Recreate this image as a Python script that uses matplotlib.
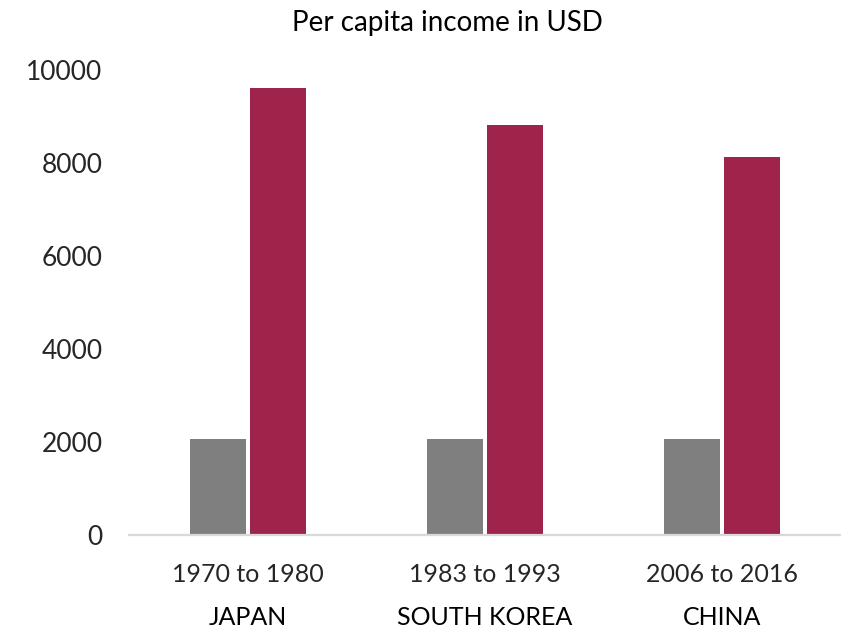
import numpy as np
import matplotlib.pyplot as plt
from matplotlib import transforms

countries = ["JAPAN", "SOUTH KOREA", "CHINA"]
periods = ["1970 to 1980", "1983 to 1993", "2006 to 2016"]
income_start = [2065, 2065, 2065]
income_end = [9610, 8815, 8130]
y_ticks = [0, 2000, 4000, 6000, 8000, 10000]

GREY = "#7f7f7f"
CRIMSON = "#9e244b"

plt.rcParams["font.family"] = ["Lato", "DejaVu Sans"]

fig = plt.figure(figsize=(8.41, 6.33), dpi=100)
ax = fig.add_axes([0.1534, 0.1548, 0.846, 0.7346])

x = np.arange(len(periods))
w = 0.236
gap = 0.017
ax.bar(x - (w + gap) / 2, income_start, width=w, color=GREY, zorder=2)
ax.bar(x + (w + gap) / 2, income_end, width=w, color=CRIMSON, zorder=2)

ax.set_xlim(-0.5, len(periods) - 0.5)
ax.set_ylim(0, 10000)
ax.set_yticks(y_ticks)
ax.set_yticklabels([str(t) for t in y_ticks], fontsize=19, color="#262626")
ax.set_xticks(x)
ax.set_xticklabels(periods, fontsize=18, color="#262626")
ax.tick_params(axis="both", length=0)
ax.tick_params(axis="x", pad=20)
ax.tick_params(axis="y", pad=19)

for side in ["top", "right", "left"]:
    ax.spines[side].set_visible(False)
ax.spines["bottom"].set_color("#d9d9d9")
ax.spines["bottom"].set_linewidth(1.6)

# country names under the period labels
trans = transforms.blended_transform_factory(ax.transData, ax.transAxes)
for xi, name in zip(x, countries):
    ax.text(xi, -0.178, name, transform=trans, ha="center", va="center",
            fontsize=18, color="black")

fig.text(0.532, 0.963, "Per capita income in USD", ha="center", va="center",
         fontsize=20, color="black")

fig.savefig("out.png", dpi=100)
